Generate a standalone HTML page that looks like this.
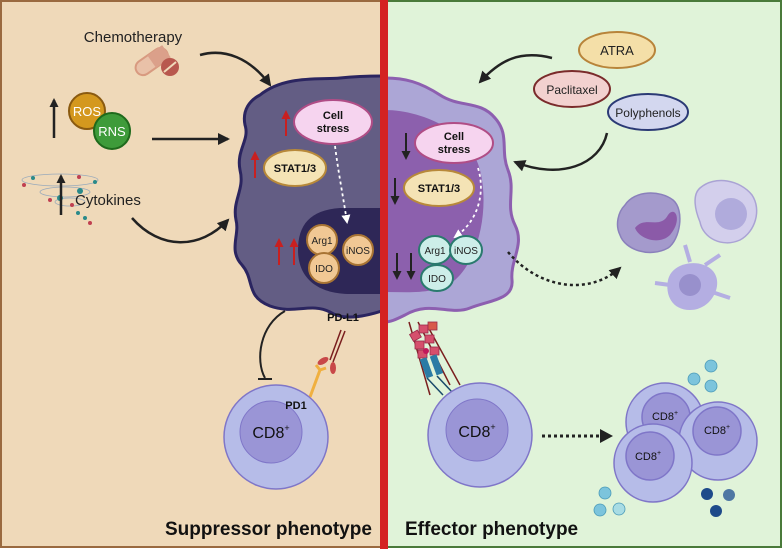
<!DOCTYPE html>
<html><head><style>body{margin:0}svg{display:block;font-family:"Liberation Sans",sans-serif}</style></head><body>
<svg width="783" height="549" viewBox="0 0 783 549" xmlns="http://www.w3.org/2000/svg">
<defs>
<marker id="ab" markerWidth="12" markerHeight="12" refX="10" refY="6" orient="auto" markerUnits="userSpaceOnUse"><path d="M0,0 L12,6 L0,12z" fill="#222"/></marker>
<marker id="aw" markerWidth="9" markerHeight="9" refX="7" refY="4.5" orient="auto" markerUnits="userSpaceOnUse"><path d="M0,0 L9,4.5 L0,9z" fill="#fff"/></marker>
<marker id="ar" markerWidth="9" markerHeight="9" refX="7" refY="4.5" orient="auto" markerUnits="userSpaceOnUse"><path d="M0,0 L9,4.5 L0,9z" fill="#c82020"/></marker>
<marker id="ak" markerWidth="9" markerHeight="9" refX="7" refY="4.5" orient="auto" markerUnits="userSpaceOnUse"><path d="M0,0 L9,4.5 L0,9z" fill="#222"/></marker>
</defs>
<rect x="1" y="1" width="380" height="546" fill="#efd9b9" stroke="#9a6a40" stroke-width="2"/>
<rect x="386" y="1" width="395" height="546" fill="#e0f3d9" stroke="#4a7a3a" stroke-width="2"/>

<path d="M260,95 C285,75 320,80 340,78 C360,76 375,76 385,76 L385,310 C370,315 345,322 330,312 C310,302 295,315 270,306 C245,296 255,280 242,265 C228,250 240,235 236,220 C232,200 245,190 240,170 C236,150 250,140 245,125 C242,110 250,100 260,95Z" fill="#635d84" stroke="#2b2560" stroke-width="3"/>
<path d="M385,208 L340,208 C310,210 298,225 298,250 C298,280 320,294 350,294 L385,294Z" fill="#2e2757"/>
<path d="M385,78 C405,78 420,82 440,95 C460,108 480,100 495,118 C510,135 500,150 508,170 C516,190 505,205 515,225 C525,245 510,260 512,280 C514,300 490,300 470,308 C450,316 430,300 405,315 C395,320 390,322 385,322Z" fill="#aca6d6" stroke="#8d5fb0" stroke-width="3"/>
<path d="M385,110 C420,110 470,130 480,170 C490,210 478,260 455,280 C435,295 410,292 385,292Z" fill="#8c60ad"/>
<rect x="380" y="0" width="8" height="549" fill="#d42222"/>

<text x="133" y="42" font-size="15" fill="#222" text-anchor="middle">Chemotherapy</text>
<g transform="rotate(-35 152 62)"><rect x="134" y="54" width="36" height="15" rx="7.5" fill="#e9c1a8" stroke="#d89a80" stroke-width="2"/><rect x="152" y="54" width="18" height="15" fill="#dba08a"/></g>
<circle cx="170" cy="67" r="9" fill="#b8584e"/><line x1="164" y1="72" x2="176" y2="62" stroke="#efd9b9" stroke-width="2"/>
<path d="M200,55 C225,48 250,58 270,85" fill="none" stroke="#222" stroke-width="2.5" marker-end="url(#ab)"/>
<line x1="54" y1="138" x2="54" y2="100" stroke="#222" stroke-width="2.5" marker-end="url(#ak)"/>
<circle cx="87" cy="111" r="18" fill="#d4981e" stroke="#8a5a10" stroke-width="2"/><text x="87" y="116" font-size="13" fill="#fff" text-anchor="middle">ROS</text>
<circle cx="112" cy="131" r="18" fill="#3e9b3a" stroke="#1f6a1c" stroke-width="2"/><text x="112" y="136" font-size="13" fill="#fff" text-anchor="middle">RNS</text>
<line x1="152" y1="139" x2="228" y2="139" stroke="#222" stroke-width="2.5" marker-end="url(#ab)"/>
<g fill="none" stroke="#9ab" stroke-width="0.8"><ellipse cx="60" cy="180" rx="38" ry="6"/><ellipse cx="65" cy="192" rx="25" ry="5"/><ellipse cx="70" cy="202" rx="15" ry="4"/></g>
<g fill="#2a8a8a"><circle cx="33" cy="178" r="2"/><circle cx="95" cy="182" r="2"/><circle cx="80" cy="191" r="3"/><circle cx="60" cy="198" r="3"/><circle cx="78" cy="213" r="2"/><circle cx="85" cy="218" r="2"/></g>
<g fill="#c04050"><circle cx="24" cy="185" r="2"/><circle cx="50" cy="200" r="2"/><circle cx="79" cy="177" r="2"/><circle cx="72" cy="205" r="2"/><circle cx="90" cy="223" r="2"/></g>
<line x1="61" y1="215" x2="61" y2="176" stroke="#222" stroke-width="2.5" marker-end="url(#ak)"/>
<text x="75" y="205" font-size="15" fill="#222">Cytokines</text>
<path d="M132,218 C160,250 200,250 228,220" fill="none" stroke="#222" stroke-width="2.5" marker-end="url(#ab)"/>

<line x1="286" y1="136" x2="286" y2="112" stroke="#c82020" stroke-width="2" marker-end="url(#ar)"/>
<line x1="255" y1="178" x2="255" y2="153" stroke="#c82020" stroke-width="2" marker-end="url(#ar)"/>
<line x1="279" y1="265" x2="279" y2="240" stroke="#c82020" stroke-width="2" marker-end="url(#ar)"/>
<line x1="294" y1="265" x2="294" y2="240" stroke="#c82020" stroke-width="2" marker-end="url(#ar)"/>
<ellipse cx="333" cy="122" rx="39" ry="22" fill="#f6d4ef" stroke="#b04d86" stroke-width="2"/>
<text x="333" y="119" font-size="11" font-weight="bold" text-anchor="middle" fill="#111">Cell</text><text x="333" y="132" font-size="11" font-weight="bold" text-anchor="middle" fill="#111">stress</text>
<ellipse cx="295" cy="168" rx="31" ry="18" fill="#f4e3b5" stroke="#b8893a" stroke-width="2"/>
<text x="295" y="172" font-size="11" font-weight="bold" text-anchor="middle" fill="#111">STAT1/3</text>
<path d="M335,146 C338,170 342,190 347,222" fill="none" stroke="#fff" stroke-width="1.8" stroke-dasharray="3,3" marker-end="url(#aw)"/>
<g font-size="10" text-anchor="middle" fill="#222">
<circle cx="322" cy="240" r="15" fill="#f1c894" stroke="#a87434" stroke-width="2"/><text x="322" y="244">Arg1</text>
<circle cx="358" cy="250" r="15" fill="#f1c894" stroke="#a87434" stroke-width="2"/><text x="358" y="254">iNOS</text>
<circle cx="324" cy="268" r="15" fill="#f1c894" stroke="#a87434" stroke-width="2"/><text x="324" y="272">IDO</text>
</g>
<text x="343" y="321" font-size="11" font-weight="bold" text-anchor="middle" fill="#111">PD-L1</text>
<path d="M285,311 C260,325 255,360 265,378" fill="none" stroke="#222" stroke-width="2"/>
<line x1="258" y1="379" x2="272" y2="379" stroke="#222" stroke-width="2"/>
<line x1="341" y1="330" x2="330" y2="360" stroke="#7a1e1e" stroke-width="1.5"/><line x1="345" y1="331" x2="333" y2="362" stroke="#7a1e1e" stroke-width="1.5"/>
<ellipse cx="323" cy="361" rx="6" ry="3" fill="#c84848" transform="rotate(-30 323 361)"/><ellipse cx="333" cy="368" rx="3" ry="6" fill="#c84848"/>
<path d="M310,397 L320,370 M320,370 L316,365 M320,370 L326,368" stroke="#f0b040" stroke-width="3" fill="none"/>
<circle cx="276" cy="437" r="52" fill="#b6bce8" stroke="#7f76c8" stroke-width="1.5"/>
<circle cx="271" cy="432" r="31" fill="#9a95d6" stroke="#7f76c8"/>
<text x="271" y="438" font-size="16" text-anchor="middle" fill="#111">CD8<tspan font-size="9" dy="-7">+</tspan></text>
<text x="296" y="409" font-size="11" font-weight="bold" text-anchor="middle" fill="#111">PD1</text>
<text x="165" y="535" font-size="19" font-weight="bold" fill="#111">Suppressor phenotype</text>

<ellipse cx="617" cy="50" rx="38" ry="18" fill="#f4dfa8" stroke="#b8843a" stroke-width="2"/><text x="617" y="55" font-size="13" text-anchor="middle" fill="#222">ATRA</text>
<path d="M552,58 C520,50 500,60 480,82" fill="none" stroke="#222" stroke-width="2.5" marker-end="url(#ab)"/>
<ellipse cx="572" cy="89" rx="38" ry="18" fill="#f2d1cf" stroke="#7a2b2b" stroke-width="2"/><text x="572" y="94" font-size="12" text-anchor="middle" fill="#222">Paclitaxel</text>
<ellipse cx="648" cy="112" rx="40" ry="18" fill="#d3d7ef" stroke="#2b3a75" stroke-width="2"/><text x="648" y="117" font-size="12" text-anchor="middle" fill="#222">Polyphenols</text>
<path d="M607,133 C600,165 560,180 515,162" fill="none" stroke="#222" stroke-width="2.5" marker-end="url(#ab)"/>
<line x1="406" y1="133" x2="406" y2="158" stroke="#222" stroke-width="2" marker-end="url(#ak)"/>
<line x1="395" y1="178" x2="395" y2="203" stroke="#222" stroke-width="2" marker-end="url(#ak)"/>
<line x1="397" y1="253" x2="397" y2="278" stroke="#222" stroke-width="2" marker-end="url(#ak)"/>
<line x1="411" y1="253" x2="411" y2="278" stroke="#222" stroke-width="2" marker-end="url(#ak)"/>
<ellipse cx="454" cy="143" rx="39" ry="20" fill="#f6d4ef" stroke="#b04d86" stroke-width="2"/>
<text x="454" y="140" font-size="11" font-weight="bold" text-anchor="middle" fill="#111">Cell</text><text x="454" y="153" font-size="11" font-weight="bold" text-anchor="middle" fill="#111">stress</text>
<ellipse cx="439" cy="188" rx="35" ry="18" fill="#f4e3b5" stroke="#b8893a" stroke-width="2"/>
<text x="439" y="192" font-size="11" font-weight="bold" text-anchor="middle" fill="#111">STAT1/3</text>
<path d="M478,168 C485,190 480,220 455,237" fill="none" stroke="#fff" stroke-width="1.8" stroke-dasharray="3,3" marker-end="url(#aw)"/>
<g font-size="10" text-anchor="middle" fill="#222">
<ellipse cx="435" cy="250" rx="16" ry="14" fill="#cdeee9" stroke="#2a7a6e" stroke-width="2"/><text x="435" y="254">Arg1</text>
<ellipse cx="466" cy="250" rx="16" ry="14" fill="#cdeee9" stroke="#2a7a6e" stroke-width="2"/><text x="466" y="254">iNOS</text>
<ellipse cx="437" cy="278" rx="16" ry="13" fill="#cdeee9" stroke="#2a7a6e" stroke-width="2"/><text x="437" y="282">IDO</text>
</g>
<path d="M508,252 C540,290 590,295 620,268" fill="none" stroke="#222" stroke-width="2.5" stroke-dasharray="3,3" marker-end="url(#ab)"/>
<path d="M625,205 C635,190 660,190 673,200 C685,210 680,240 668,248 C650,258 625,250 620,235 C615,225 618,212 625,205Z" fill="#a49acc" stroke="#8a80bb" stroke-width="1.5"/>
<path d="M635,228 C645,215 660,230 668,215 C675,205 683,220 670,235 C660,245 640,240 635,228Z" fill="#8b5aa8"/>
<path d="M700,188 C715,175 740,180 752,195 C762,210 755,232 740,240 C722,248 703,238 700,222 C695,210 692,195 700,188Z" fill="#d3cfec" stroke="#aaa3d4" stroke-width="1.5"/>
<circle cx="731" cy="214" r="16" fill="#b0abdc"/>
<path d="M668,280 C672,262 700,258 712,270 C725,283 712,310 690,310 C672,310 665,295 668,280Z" fill="#b4aee2"/>
<g stroke="#b4aee2" stroke-width="4" fill="none"><path d="M690,262 L685,245"/><path d="M705,265 L720,255"/><path d="M670,285 L655,283"/><path d="M712,292 L730,298"/></g>
<circle cx="690" cy="285" r="11" fill="#9890cc"/>
<line x1="409" y1="322" x2="430" y2="395" stroke="#7a1e1e" stroke-width="1.5"/>
<line x1="418" y1="322" x2="450" y2="385" stroke="#7a1e1e" stroke-width="1.5"/><line x1="427" y1="325" x2="460" y2="385" stroke="#7a1e1e" stroke-width="1.5"/>
<g fill="#d54f6c" stroke="#9a2a4a" stroke-width="0.8"><rect x="411" y="332" width="9" height="8" transform="rotate(-30 415 336)"/><rect x="419" y="325" width="9" height="8"/><rect x="428" y="322" width="9" height="8" fill="#d85a4a"/><rect x="415" y="341" width="9" height="8"/><rect x="425" y="335" width="9" height="8"/><rect x="418" y="350" width="9" height="8"/><rect x="430" y="347" width="9" height="8"/></g>
<circle cx="426" cy="351" r="3" fill="#c2185b"/>
<g fill="#2a7ba5"><rect x="423" y="358" width="7" height="20" transform="rotate(-20 426 368)"/><rect x="433" y="355" width="7" height="20" transform="rotate(-20 436 365)"/></g>
<line x1="427" y1="378" x2="443" y2="395" stroke="#1a4a6a" stroke-width="1.5"/><line x1="437" y1="376" x2="452" y2="392" stroke="#1a4a6a" stroke-width="1.5"/>
<circle cx="480" cy="435" r="52" fill="#b6bce8" stroke="#7f76c8" stroke-width="1.5"/>
<circle cx="477" cy="430" r="31" fill="#9a95d6" stroke="#7f76c8"/>
<text x="477" y="437" font-size="16" text-anchor="middle" fill="#111">CD8<tspan font-size="9" dy="-7">+</tspan></text>
<line x1="542" y1="436" x2="602" y2="436" stroke="#222" stroke-width="3" stroke-dasharray="3,3"/>
<path d="M600,429 L613,436 L600,443z" fill="#222"/>
<g stroke="#7f76c8" stroke-width="1.5" font-size="11" text-anchor="middle">
<circle cx="665" cy="422" r="39" fill="#b6bce8"/><circle cx="666" cy="417" r="24" fill="#9a95d6"/>
<circle cx="718" cy="441" r="39" fill="#b6bce8"/><circle cx="717" cy="431" r="24" fill="#9a95d6"/>
<circle cx="653" cy="463" r="39" fill="#b6bce8"/><circle cx="650" cy="456" r="24" fill="#9a95d6"/>
</g>
<g font-size="11" text-anchor="middle" fill="#111"><text x="665" y="420">CD8<tspan font-size="7" dy="-5">+</tspan></text><text x="717" y="434">CD8<tspan font-size="7" dy="-5">+</tspan></text><text x="648" y="460">CD8<tspan font-size="7" dy="-5">+</tspan></text></g>
<g fill="#7cc4dc" stroke="#4a9ab8" stroke-width="0.8"><circle cx="711" cy="366" r="6"/><circle cx="694" cy="379" r="6"/><circle cx="711" cy="386" r="6"/><circle cx="605" cy="493" r="6"/><circle cx="600" cy="510" r="6"/><circle cx="619" cy="509" r="6" fill="#a8dce4"/></g>
<g fill="#1e4a8a"><circle cx="707" cy="494" r="6"/><circle cx="716" cy="511" r="6"/><circle cx="729" cy="495" r="6" fill="#4f77a3"/></g>
<text x="405" y="535" font-size="19" font-weight="bold" fill="#111">Effector phenotype</text>
</svg>
</body></html>
